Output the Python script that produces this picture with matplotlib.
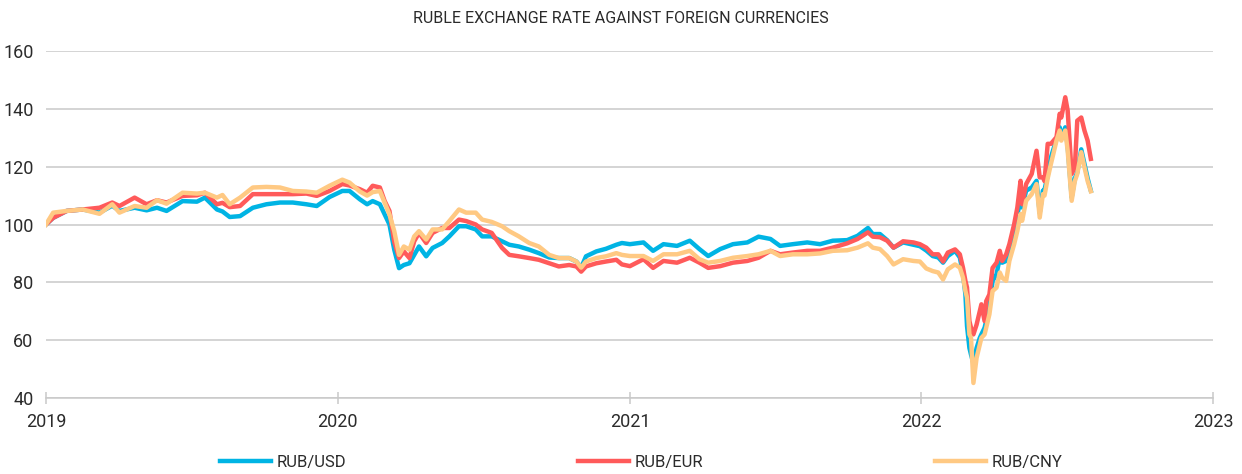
import matplotlib
matplotlib.use("Agg")
import matplotlib.pyplot as plt
import numpy as np
from matplotlib import font_manager

# values (index, 2019-01-01 = 100)
dates = [
    "2019-01-01", "2019-01-10", "2019-01-27", "2019-02-16", "2019-03-09", "2019-03-25",
    "2019-04-03", "2019-04-22", "2019-05-07", "2019-05-20", "2019-06-01", "2019-06-21",
    "2019-07-09", "2019-07-19", "2019-08-03", "2019-08-10", "2019-08-19", "2019-09-01",
    "2019-09-17", "2019-10-04", "2019-10-21", "2019-11-06", "2019-11-23", "2019-12-06",
    "2019-12-22", "2020-01-07", "2020-01-16", "2020-01-29", "2020-02-07", "2020-02-14",
    "2020-02-23", "2020-02-29", "2020-03-06", "2020-03-12", "2020-03-18", "2020-03-24",
    "2020-03-31", "2020-04-06", "2020-04-12", "2020-04-21", "2020-04-29", "2020-05-11",
    "2020-05-20", "2020-06-01", "2020-06-10", "2020-06-22", "2020-06-30", "2020-07-12",
    "2020-07-25", "2020-08-03", "2020-08-15", "2020-08-28", "2020-09-09", "2020-09-22",
    "2020-10-04", "2020-10-17", "2020-10-26", "2020-11-01", "2020-11-07", "2020-11-20",
    "2020-12-02", "2020-12-15", "2020-12-22", "2021-01-01", "2021-01-18", "2021-01-30",
    "2021-02-12", "2021-03-01", "2021-03-17", "2021-03-29", "2021-04-09", "2021-04-24",
    "2021-05-10", "2021-05-28", "2021-06-11", "2021-06-26", "2021-07-08", "2021-07-24",
    "2021-08-11", "2021-08-27", "2021-09-12", "2021-09-30", "2021-10-13", "2021-10-26",
    "2021-11-01", "2021-11-10", "2021-11-19", "2021-11-27", "2021-12-09", "2021-12-22",
    "2021-12-30", "2022-01-07", "2022-01-15", "2022-01-22", "2022-01-28", "2022-02-03",
    "2022-02-12", "2022-02-18", "2022-02-22", "2022-02-25", "2022-02-27", "2022-03-02",
    "2022-03-04", "2022-03-07", "2022-03-11", "2022-03-15", "2022-03-17", "2022-03-21",
    "2022-03-23", "2022-03-27", "2022-03-31", "2022-04-05", "2022-04-09", "2022-04-12",
    "2022-04-17", "2022-04-21", "2022-04-27", "2022-05-01", "2022-05-05", "2022-05-07",
    "2022-05-12", "2022-05-19", "2022-05-25", "2022-05-29", "2022-06-02", "2022-06-04",
    "2022-06-08", "2022-06-12", "2022-06-19", "2022-06-23", "2022-06-25", "2022-06-30",
    "2022-07-03", "2022-07-08", "2022-07-12", "2022-07-15", "2022-07-20", "2022-07-24",
    "2022-07-28", "2022-08-01",
]

rub_usd = [
    100, 102.3, 104.7, 105.2, 104.1, 106.5, 104.7, 105.8, 104.9, 105.8, 104.7, 108.1,
    107.9, 109.3, 105.2, 104.5, 102.6, 102.9, 105.8, 107, 107.6, 107.6, 107, 106.4,
    109.5, 111.6, 111.6, 108.7, 107, 108.1, 107, 103.5, 100, 91.3, 84.9, 86,
    86.6, 89.5, 92.4, 89, 91.9, 93.6, 95.9, 99.4, 99.4, 98.3, 95.9, 95.9,
    94.2, 93, 92.4, 91.3, 90.1, 88.6, 88.4, 88.4, 87.2, 85.1, 89, 90.7,
    91.6, 93, 93.6, 93.2, 93.8, 90.9, 93.2, 92.6, 94.4, 91.5, 89.1, 91.5,
    93.2, 93.8, 95.8, 95, 92.6, 93.2, 93.8, 93.2, 94.4, 94.6, 96.1, 98.8,
    96.7, 96.7, 94.6, 92, 93.8, 93, 92.5, 91, 89.1, 88.6, 86.8, 89.1,
    90.9, 88.6, 82.8, 75.8, 64.9, 57.3, 55, 52, 57.3, 60.8, 62, 64.3,
    66.6, 71.2, 80.5, 82.8, 88.6, 86.8, 87.4, 92, 97.8, 103.6, 108.2, 105.9,
    111.7, 112.8, 115.1, 104, 111.7, 112, 117, 123.2, 129.5, 133.6, 130, 133.6,
    127, 109.4, 116, 118, 126, 121, 116, 111.7,
]

rub_eur = [
    100, 102.3, 104.7, 105.2, 105.8, 107.6, 106.4, 109.3, 107, 108.4, 107.6, 109.9,
    110.1, 111, 107, 107.5, 106, 106.4, 110.5, 110.5, 110.5, 110.5, 110.7, 109.9,
    111.6, 114, 113.5, 112.2, 111, 113.4, 112.8, 108.1, 104.7, 94, 88.4, 90.7,
    88.4, 94.2, 97.1, 93.6, 97.1, 98.8, 98.8, 101.7, 101.2, 100, 98.3, 97.1,
    91.9, 89.5, 89, 88.4, 87.8, 86.6, 85.5, 86, 85.5, 83.7, 85.5, 86.6,
    87.2, 87.8, 86.2, 85.6, 88, 85, 87.4, 86.8, 88.5, 86.8, 85, 85.6,
    86.8, 87.4, 88.5, 90.9, 89.7, 90.3, 90.9, 90.9, 92, 93.5, 95, 97.3,
    95.8, 95.6, 94.4, 92, 94.2, 93.8, 93.2, 92, 89.7, 89.7, 87.2, 90.3,
    91.4, 89.7, 85, 80.5, 78.2, 66.6, 64.3, 62, 65.4, 70, 72.4, 66.6,
    73.5, 75.8, 85, 86.8, 90.9, 87.4, 89.7, 93.2, 100.1, 105.9, 115.1, 107,
    114, 117.5, 125.5, 116.3, 116.3, 115, 127.9, 127.9, 130.2, 138.3, 137, 144,
    139.4, 117.5, 119.8, 135.9, 137, 132.5, 129, 122.7,
]

rub_cny = [
    100, 104.1, 104.7, 105.2, 103.7, 107, 104.1, 106.4, 105.8, 108.4, 107.2, 111,
    110.7, 111, 109.3, 110.2, 107, 109.3, 112.8, 113, 112.8, 111.6, 111.4, 111,
    113.4, 115.5, 114.5, 111.4, 110, 111.2, 111.6, 107.6, 103.5, 97.7, 89.5, 92.4,
    91.3, 95.9, 97.7, 94.8, 98.3, 98.3, 101.2, 105.2, 104.1, 104.1, 101.7, 100.9,
    99.4, 97.7, 95.9, 93.6, 92.4, 89.5, 88.4, 88.4, 87.2, 85.1, 87.2, 88.4,
    89, 90.1, 89.5, 89.1, 89.1, 87.4, 89.7, 89.7, 90.9, 88, 86.8, 87.4,
    88.5, 89.1, 89.7, 90.9, 89.1, 89.7, 89.7, 90, 90.9, 91.1, 92, 93.5,
    92, 91.5, 89.1, 86.2, 88, 87.4, 87.2, 84.8, 83.9, 83.4, 81, 84.5,
    86.2, 85.1, 81.6, 77, 74.7, 62, 60.8, 45.2, 53.9, 58.5, 60.8, 62,
    64.3, 68.9, 77, 78.2, 83.4, 81.6, 80.5, 87.4, 93.2, 97.8, 103.6, 101.3,
    108.2, 110.5, 114, 102.4, 110.5, 110, 116, 120.9, 129, 132.5, 129, 132.5,
    125.5, 108.2, 115, 117.5, 125, 119.8, 115, 111.5,
]

series_names = ["RUB/USD", "RUB/EUR", "RUB/CNY"]
series_colors = ["#00b4e4", "#ff5a5a", "#ffc983"]
y_ticks = [40, 60, 80, 100, 120, 140, 160]
year_ticks = ["2019", "2020", "2021", "2022", "2023"]

names = {f.name for f in font_manager.fontManager.ttflist}
font = "Liberation Sans Narrow" if "Liberation Sans Narrow" in names else "Roboto"
plt.rcParams["font.family"] = [font, "DejaVu Sans"]

text_color = "#2b2b2b"
grid_color = "#c9c9c9"

x = np.array(dates, dtype="datetime64[D]")

fig = plt.figure(figsize=(12.42, 4.74), dpi=100)
ax = fig.add_axes([0.037, 0.1603, 0.9397, 0.7321])

for vals, name, col in zip([rub_usd, rub_eur, rub_cny], series_names, series_colors):
    ax.plot(x, vals, color=col, lw=3.2, label=name, solid_joinstyle="round")

ax.set_ylim(40, 160)
ax.set_yticks(y_ticks)
year_dates = np.array([y + "-01-01" for y in year_ticks], dtype="datetime64[D]")
ax.set_xlim(year_dates[0], year_dates[-1])
ax.set_xticks(year_dates)
ax.set_xticklabels(year_ticks)

ax.grid(axis="y", color=grid_color, lw=1.1)
ax.set_axisbelow(True)
for side in ["top", "right", "left"]:
    ax.spines[side].set_visible(False)
ax.spines["bottom"].set_color(grid_color)
ax.spines["bottom"].set_linewidth(1.1)

ax.tick_params(axis="y", length=0, pad=9, labelsize=13, labelcolor=text_color)
ax.tick_params(axis="x", direction="inout", length=9, width=1.1, color=grid_color,
               pad=6, labelsize=13, labelcolor=text_color)

fig.text(0.5, 0.962, "RUBLE EXCHANGE RATE AGAINST FOREIGN CURRENCIES",
         ha="center", va="center", fontsize=11.5, color=text_color)

fig.legend(loc="center", bbox_to_anchor=(0.516, 0.024), ncol=3, frameon=False,
           fontsize=12, handlelength=3.1, handletextpad=0.3, columnspacing=13.9,
           labelcolor=text_color)

fig.savefig("out.png", dpi=100)
